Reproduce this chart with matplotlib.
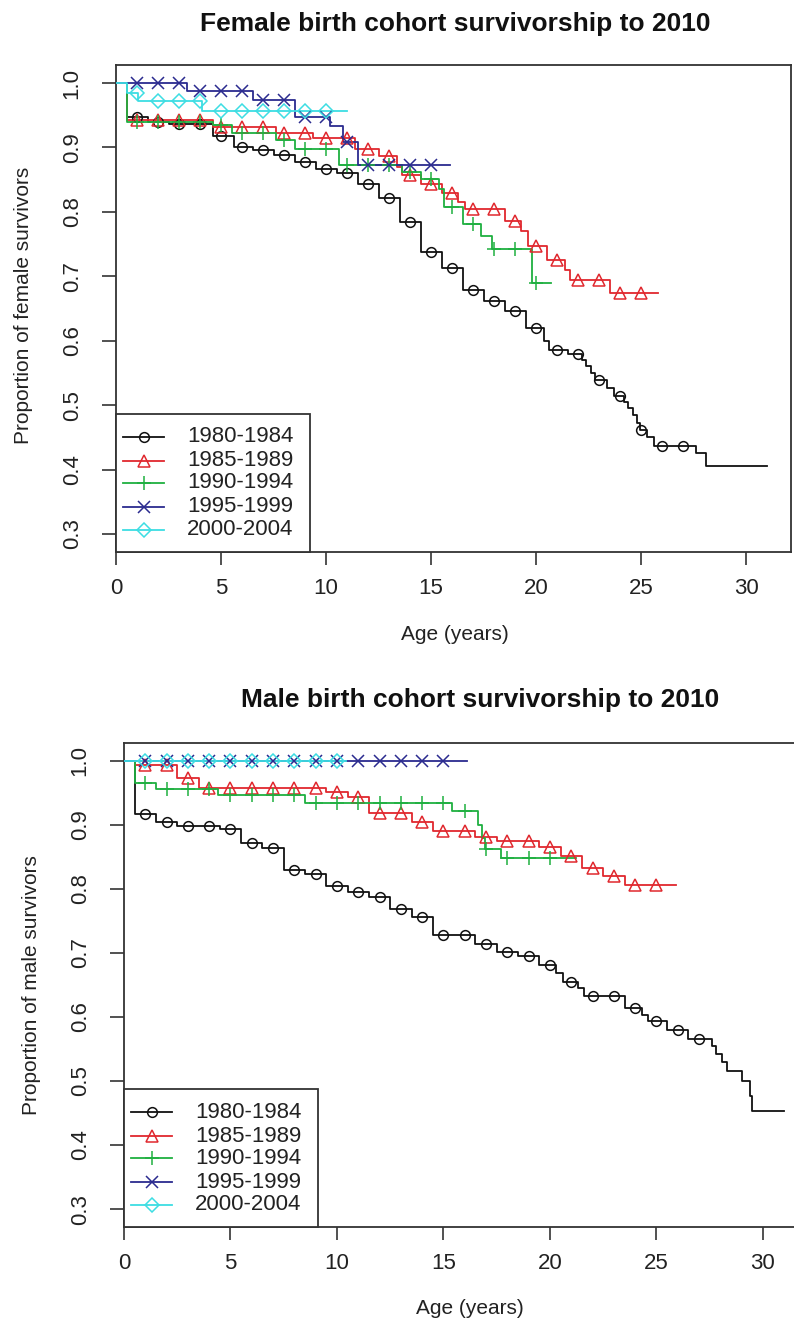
import matplotlib
matplotlib.use("Agg")
import matplotlib.pyplot as plt
from matplotlib.patches import Rectangle
import numpy as np

plt.rcParams['font.family'] = ['Liberation Sans', 'DejaVu Sans']

# ---------------- data (Kaplan-Meier style step curves) ----------------
cohorts = ["1980-1984", "1985-1989", "1990-1994", "1995-1999", "2000-2004"]

# Female
f80_t = [0, 0.5, 1.5, 2.5, 4.6, 5.6, 6.5, 7.5, 8.5, 9.5, 10.5, 11.5, 12.5, 13.5, 14.5, 15.5,
         16.5, 17.5, 18.5, 19.5, 20.4, 20.6, 21.5, 22.2, 22.4, 22.6, 22.8, 23.4, 23.7, 24.2,
         24.4, 24.6, 24.8, 24.95, 25.3, 25.6, 27.6, 28.1]
f80_s = [1.0, 0.948, 0.940, 0.937, 0.918, 0.901, 0.896, 0.889, 0.878, 0.867, 0.861, 0.844,
         0.821, 0.784, 0.737, 0.713, 0.679, 0.661, 0.646, 0.620, 0.600, 0.586, 0.580, 0.570,
         0.560, 0.550, 0.539, 0.527, 0.514, 0.505, 0.495, 0.485, 0.473, 0.462, 0.450, 0.437,
         0.425, 0.406]
f80_end = 31.0
f80_marks = list(range(1, 28))

f85_t = [0, 0.5, 4.6, 7.6, 9.4, 11.4, 12.5, 13.4, 13.6, 14.5, 15.5, 16.3, 16.6, 18.5, 19.3,
         19.6, 20.5, 21.4, 21.6, 23.5]
f85_s = [1.0, 0.943, 0.932, 0.923, 0.915, 0.897, 0.887, 0.870, 0.858, 0.843, 0.830, 0.815,
         0.804, 0.786, 0.770, 0.747, 0.726, 0.710, 0.695, 0.674]
f85_end = 25.8
f85_marks = list(range(1, 26))

f90_t = [0, 0.5, 4.6, 5.5, 7.6, 8.5, 10.6, 13.6, 14.5, 15.4, 15.6, 16.5, 17.4, 17.9, 19.8]
f90_s = [1.0, 0.940, 0.935, 0.923, 0.912, 0.897, 0.872, 0.862, 0.851, 0.835, 0.807, 0.781,
         0.763, 0.743, 0.689]
f90_end = 20.7
f90_marks = list(range(1, 21))

f95_t = [0, 3.4, 6.5, 8.5, 10.2, 10.8, 11.5]
f95_s = [1.0, 0.987, 0.974, 0.947, 0.934, 0.908, 0.872]
f95_end = 15.9
f95_marks = list(range(1, 16))

f00_t = [0, 0.5, 1.05, 4.1]
f00_s = [1.0, 0.985, 0.972, 0.957]
f00_end = 11.0
f00_marks = list(range(1, 11))

# Male
m80_t = [0, 0.5, 1.5, 2.5, 4.5, 5.5, 6.5, 7.5, 8.5, 9.5, 10.5, 11.5, 12.5, 13.5, 14.5, 16.5,
         17.5, 18.5, 19.5, 20.3, 20.6, 21.3, 21.6, 23.5, 24.3, 24.6, 25.5, 26.5, 27.6, 27.8,
         28.1, 28.3, 29.0, 29.4, 29.5]
m80_s = [1.0, 0.917, 0.905, 0.899, 0.894, 0.872, 0.864, 0.830, 0.823, 0.804, 0.796, 0.788,
         0.768, 0.756, 0.728, 0.714, 0.701, 0.696, 0.681, 0.668, 0.655, 0.645, 0.633, 0.614,
         0.603, 0.593, 0.580, 0.565, 0.555, 0.542, 0.530, 0.516, 0.500, 0.477, 0.453]
m80_end = 31.0
m80_marks = list(range(1, 28))

m85_t = [0, 0.5, 2.5, 3.5, 9.5, 10.5, 11.5, 13.5, 14.5, 16.5, 17.5, 19.5, 20.5, 21.5, 22.5, 23.5]
m85_s = [1.0, 0.993, 0.974, 0.958, 0.951, 0.943, 0.918, 0.905, 0.891, 0.881, 0.875, 0.865,
         0.851, 0.832, 0.821, 0.806]
m85_end = 25.9
m85_marks = list(range(1, 26))

m90_t = [0, 0.5, 1.5, 4.4, 8.5, 15.4, 16.6, 16.8, 16.95, 17.7]
m90_s = [1.0, 0.966, 0.956, 0.946, 0.934, 0.922, 0.900, 0.880, 0.862, 0.848]
m90_end = 21.2
m90_marks = list(range(1, 21))

m95_t = [0]
m95_s = [1.0]
m95_end = 16.1
m95_marks = list(range(1, 16))

m00_t = [0]
m00_s = [1.0]
m00_end = 10.4
m00_marks = list(range(1, 11))

x_ticks = [0, 5, 10, 15, 20, 25, 30]
y_ticks = [0.3, 0.4, 0.5, 0.6, 0.7, 0.8, 0.9, 1.0]

# ---------------- styling ----------------
colors = ['#111111', '#E0282E', '#1FB040', '#2B2B8F', '#3DDDE3']
markers = ['o', '^', '+', 'x', 'D']
msizes = [7.0, 8.5, 9.5, 8.5, 7.5]
AXC = '#333333'
TXC = '#222222'

W, H = 794, 1323
fig = plt.figure(figsize=(W / 100, H / 100), dpi=100)


def rect(l, t, r, b):
    return [l / W, 1 - b / H, (r - l) / W, (b - t) / H]


def draw_curve(ax, t, s, end, marks, color, marker, ms):
    x = list(t) + [end]
    y = list(s) + [s[-1]]
    ax.step(x, y, where='post', color=color, lw=1.3, zorder=3)
    idx = np.searchsorted(np.array(t), np.array(marks), side='right') - 1
    ax.plot(marks, np.array(s)[idx], ls='none', marker=marker, ms=ms,
            mfc='none', mec=color, mew=1.1, zorder=4)


def style_axes(ax, xmax):
    ax.set_xlim(0, xmax)
    ax.set_ylim(0.272, 1.028)
    ax.set_xticks(x_ticks)
    ax.set_yticks(y_ticks)
    ax.set_xticklabels([str(v) for v in x_ticks])
    ax.set_yticklabels(['%.1f' % v for v in y_ticks])
    for sp in ax.spines.values():
        sp.set_color(AXC)
        sp.set_linewidth(1.3)
    ax.tick_params(axis='x', length=9, width=1.2, color=AXC, labelsize=16,
                   labelcolor=TXC, pad=10)
    ax.tick_params(axis='y', length=10, width=1.2, color=AXC, labelsize=16,
                   labelcolor=TXC, pad=14, labelrotation=90)
    for lab in ax.get_yticklabels():
        lab.set_va('center')


def draw_legend(ax, axw, axh):
    bw, bh = 194, 138
    ax.add_patch(Rectangle((0, 0), bw / axw, bh / axh, transform=ax.transAxes,
                           facecolor='white', edgecolor=AXC, lw=1.3, zorder=6,
                           clip_on=False))
    rows = [115, 91, 69, 45, 22]
    for lab, c, m, ms, r in zip(cohorts, colors, markers, msizes, rows):
        yy = r / axh
        ax.plot([7 / axw, 48 / axw], [yy, yy], transform=ax.transAxes, color=c,
                lw=1.3, zorder=7, clip_on=False)
        ax.plot([27.5 / axw], [yy], transform=ax.transAxes, ls='none', marker=m,
                ms=ms, mfc='none', mec=c, mew=1.1, zorder=7, clip_on=False)
        ax.text(71 / axw, yy, lab, transform=ax.transAxes, fontsize=16, color=TXC,
                va='center', ha='left', zorder=8)


# ---------------- female ----------------
ax1 = fig.add_axes(rect(116, 65, 791, 552))
fem = [(f80_t, f80_s, f80_end, f80_marks), (f85_t, f85_s, f85_end, f85_marks),
       (f90_t, f90_s, f90_end, f90_marks), (f95_t, f95_s, f95_end, f95_marks),
       (f00_t, f00_s, f00_end, f00_marks)]
for (t, s, e, mk), c, m, ms in zip(fem, colors, markers, msizes):
    draw_curve(ax1, t, s, e, mk, c, m, ms)
style_axes(ax1, 32.14)
draw_legend(ax1, 675, 487)

fig.text(455 / W, 1 - 24 / H, "Female birth cohort survivorship to 2010", ha='center',
         va='center', fontsize=19, fontweight='bold', color='#111111')
fig.text(455 / W, 1 - 635 / H, "Age (years)", ha='center', va='center', fontsize=15,
         color=TXC)
fig.text(24 / W, 1 - 305 / H, "Proportion of female survivors", ha='center', va='center',
         rotation=90, fontsize=15, color=TXC)

# ---------------- male ----------------
ax2 = fig.add_axes(rect(124, 743, 836, 1227))
mal = [(m80_t, m80_s, m80_end, m80_marks), (m85_t, m85_s, m85_end, m85_marks),
       (m90_t, m90_s, m90_end, m90_marks), (m95_t, m95_s, m95_end, m95_marks),
       (m00_t, m00_s, m00_end, m00_marks)]
for (t, s, e, mk), c, m, ms in zip(mal, colors, markers, msizes):
    draw_curve(ax2, t, s, e, mk, c, m, ms)
style_axes(ax2, 33.43)
draw_legend(ax2, 712, 484)

fig.text(480 / W, 1 - 700 / H, "Male birth cohort survivorship to 2010", ha='center',
         va='center', fontsize=19, fontweight='bold', color='#111111')
fig.text(470 / W, 1 - 1308 / H, "Age (years)", ha='center', va='center', fontsize=15,
         color=TXC)
fig.text(32 / W, 1 - 985 / H, "Proportion of male survivors", ha='center', va='center',
         rotation=90, fontsize=15, color=TXC)

fig.savefig("out.png", dpi=100, facecolor='white')
